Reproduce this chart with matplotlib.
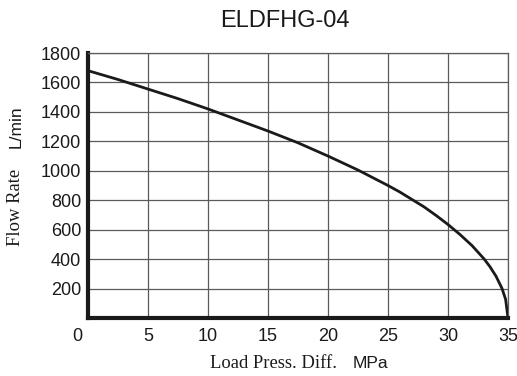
import matplotlib
matplotlib.use("Agg")
import matplotlib.pyplot as plt

pressure = [0, 2.5, 5, 7.5, 10, 12.5, 15, 17.5, 20, 22.5, 25, 26, 27, 28, 29, 30, 31, 32, 33, 33.5, 34, 34.5, 34.8, 35]
flow = [1680, 1620, 1555, 1490, 1420, 1345, 1270, 1190, 1100, 1005, 900, 855, 805, 755, 697, 635, 567, 492, 402, 348, 284, 201, 127, 0]

x_ticks = [5, 10, 15, 20, 25, 30, 35]
y_ticks = [200, 400, 600, 800, 1000, 1200, 1400, 1600, 1800]

W, H = 517, 376
fig = plt.figure(figsize=(W / 100, H / 100), dpi=100)
ax = fig.add_axes([88 / W, 1 - 318 / H, (508 - 88) / W, (318 - 53) / H])

ax.plot(pressure, flow, color="#1a1a1a", lw=2.0, solid_capstyle="butt", zorder=3)
ax.set_xlim(0, 35)
ax.set_ylim(0, 1800)
ax.set_xticks(x_ticks)
ax.set_yticks(y_ticks)
ax.grid(True, color="#5a5a5a", lw=0.9)
ax.tick_params(length=0, labelsize=13)
ax.tick_params(axis="x", pad=7)
ax.tick_params(axis="y", pad=5)
for lab in ax.get_xticklabels() + ax.get_yticklabels():
    lab.set_family("Liberation Sans")
    lab.set_color("#1a1a1a")

for s in ["left", "bottom"]:
    ax.spines[s].set_linewidth(3.0)
    ax.spines[s].set_color("#1a1a1a")
for s in ["top", "right"]:
    ax.spines[s].set_linewidth(0.9)
    ax.spines[s].set_color("#5a5a5a")


def fx(px):
    return px / W


def fy(py):
    return 1 - py / H


# origin label, aligned with the x tick labels
fig.text(fx(77), fy(328), "0", ha="center", va="top", fontsize=13,
         family="Liberation Sans", color="#1a1a1a")
fig.text(fx(285), fy(21), "ELDFHG-04", ha="center", va="center", fontsize=17,
         family="Liberation Sans", color="#1a1a1a")
fig.text(fx(16), fy(207), "Flow Rate", rotation=90, ha="center", va="center",
         fontsize=13.4, family="Liberation Serif", color="#1a1a1a")
fig.text(fx(16), fy(127), "L/min", rotation=90, ha="center", va="center",
         fontsize=12.5, family="Liberation Sans", color="#1a1a1a")
fig.text(fx(273), fy(364), "Load Press. Diff.", ha="center", va="center",
         fontsize=13.4, family="Liberation Serif", color="#1a1a1a")
fig.text(fx(370), fy(363), "MPa", ha="center", va="center",
         fontsize=12.6, family="Liberation Sans", color="#1a1a1a")

fig.savefig("out.png", dpi=100, facecolor="white")
